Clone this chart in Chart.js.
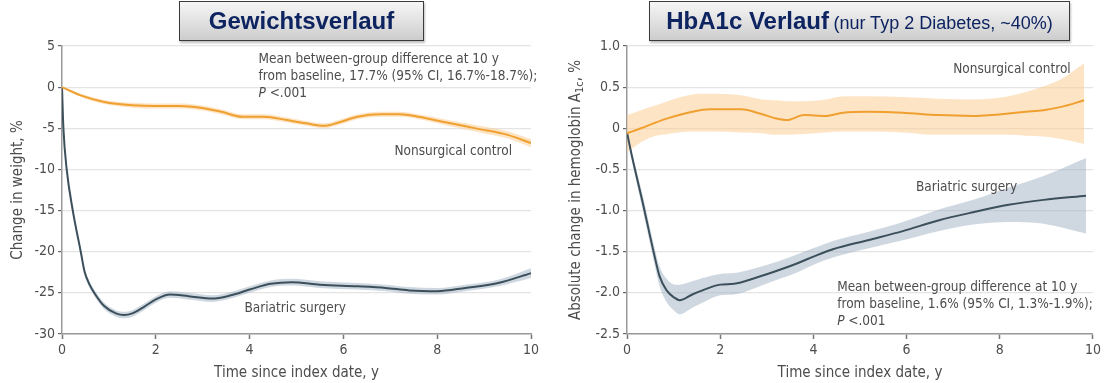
<!DOCTYPE html>
<html lang="de">
<head>
<meta charset="UTF-8">
<title>Gewichtsverlauf und HbA1c Verlauf</title>
<style>
    body {
        margin: 0;
        width: 1104px;
        height: 383px;
        background: #ffffff;
        position: relative;
        overflow: hidden;
    }
    canvas {
        position: absolute;
        top: 0;
    }
    #weightChart { left: 0; }
    #a1cChart { left: 552px; }
    .titlebox {
        position: absolute;
        top: 1px;
        height: 38px;
        border: 1px solid #3a3a3a;
        background: linear-gradient(to bottom, #f6f6f6, #cdcdcd);
        box-shadow: 1px 2px 2px rgba(0, 0, 0, 0.25);
        color: #0d2461;
        font-family: 'Liberation Sans', Arial, sans-serif;
        text-align: center;
        line-height: 38px;
        white-space: nowrap;
        z-index: 2;
    }
    .titlebox b { font-size: 24px; }
    .titlebox span { font-size: 18px; }
</style>
</head>
<body>
    <div class="titlebox" style="left:179px; width:243px;"><b>Gewichtsverlauf</b></div>
    <div class="titlebox" style="left:649px; width:419px;"><b>HbA1c Verlauf</b> <span>(nur Typ 2 Diabetes, ~40%)</span></div>
    <canvas id="weightChart" width="552" height="383"></canvas>
    <canvas id="a1cChart" width="552" height="383"></canvas>

    <script src="https://cdn.jsdelivr.net/npm/chart.js"></script>
    <script>
        // --- Gewicht (Change in weight, %) ---
        const xTicks = [0, 2, 4, 6, 8, 10];
        const weightTicks = [5, 0, -5, -10, -15, -20, -25, -30];
        const a1cTicks = [1.0, 0.5, 0, -0.5, -1.0, -1.5, -2.0, -2.5];

        const ncWeightTime = [0, 0.4, 0.9, 1.5, 2.0, 2.5, 2.95, 3.4, 3.85, 4.3, 4.8, 5.2, 5.6, 5.9, 6.3, 6.8, 7.2, 7.6, 8.2, 8.9, 9.5, 10];
        const ncWeight   = [0, -1.0, -1.8, -2.2, -2.3, -2.3, -2.5, -3.0, -3.6, -3.6, -4.0, -4.4, -4.7, -4.3, -3.6, -3.3, -3.3, -3.6, -4.3, -5.1, -5.8, -6.8];
        const ncWeightHi = [0, -0.8, -1.55, -1.9, -2.0, -2.0, -2.2, -2.7, -3.3, -3.3, -3.7, -4.1, -4.4, -4.0, -3.3, -3.0, -3.0, -3.3, -3.95, -4.7, -5.35, -6.3];
        const ncWeightLo = [0, -1.2, -2.05, -2.5, -2.6, -2.6, -2.8, -3.3, -3.9, -3.9, -4.3, -4.7, -5.0, -4.6, -3.9, -3.6, -3.6, -3.9, -4.65, -5.5, -6.25, -7.3];

        const bsWeightTime = [0, 0.03, 0.1, 0.23, 0.4, 0.48, 0.58, 0.7, 0.9, 1.15, 1.32, 1.5, 1.75, 2.0, 2.3, 2.7, 3.2, 3.6, 4.0, 4.45, 4.9, 5.5, 6.3, 6.9, 7.4, 8.0, 8.6, 9.3, 10];
        const bsWeight   = [0, -5, -10, -15, -20, -22.4, -23.9, -25.1, -26.6, -27.5, -27.7, -27.5, -26.7, -25.8, -25.2, -25.4, -25.7, -25.3, -24.6, -23.9, -23.7, -24.0, -24.2, -24.4, -24.7, -24.8, -24.4, -23.8, -22.6];
        const bsWeightHi = [0, -4.8, -9.7, -14.6, -19.6, -22.0, -23.5, -24.7, -26.2, -27.1, -27.3, -27.1, -26.3, -25.4, -24.8, -25.0, -25.3, -24.9, -24.2, -23.5, -23.3, -23.6, -23.8, -24.0, -24.3, -24.4, -24.0, -23.4, -22.0];
        const bsWeightLo = [0, -5.2, -10.3, -15.4, -20.4, -22.8, -24.3, -25.5, -27.0, -27.9, -28.1, -27.9, -27.1, -26.2, -25.6, -25.8, -26.1, -25.7, -25.0, -24.3, -24.1, -24.4, -24.6, -24.8, -25.1, -25.2, -24.8, -24.2, -23.2];

        // --- HbA1c (Absolute change, %) ---
        const ncA1cTime = [0, 0.3, 0.57, 0.87, 1.4, 1.77, 2.45, 2.9, 3.2, 3.43, 3.8, 4.26, 4.64, 5.17, 5.92, 6.68, 7.43, 7.8, 8.19, 8.56, 8.94, 9.32, 9.81];
        const ncA1c   = [-0.06, 0.0, 0.06, 0.12, 0.2, 0.23, 0.23, 0.17, 0.12, 0.1, 0.16, 0.15, 0.19, 0.2, 0.19, 0.16, 0.15, 0.16, 0.18, 0.2, 0.22, 0.26, 0.34];
        const ncA1cHi = [0.16, 0.22, 0.27, 0.33, 0.41, 0.42, 0.40, 0.35, 0.34, 0.33, 0.33, 0.35, 0.39, 0.39, 0.38, 0.36, 0.35, 0.36, 0.39, 0.44, 0.51, 0.6, 0.79];
        const ncA1cLo = [-0.29, -0.17, -0.1, -0.07, -0.04, -0.04, -0.05, -0.06, -0.08, -0.08, -0.07, -0.05, -0.04, -0.04, -0.05, -0.08, -0.08, -0.08, -0.08, -0.09, -0.1, -0.13, -0.19];

        const bsA1cTime = [0, 0.11, 0.34, 0.57, 0.7, 0.85, 1.02, 1.13, 1.4, 1.62, 2.0, 2.3, 2.75, 3.28, 3.66, 4.04, 4.42, 5.17, 5.92, 6.68, 7.43, 8.19, 8.94, 9.85];
        const bsA1c   = [-0.05, -0.35, -0.91, -1.5, -1.8, -1.97, -2.06, -2.09, -2.02, -1.97, -1.9, -1.89, -1.82, -1.72, -1.64, -1.55, -1.47, -1.36, -1.25, -1.12, -1.02, -0.93, -0.87, -0.82];
        const bsA1cHi = [-0.03, -0.3, -0.82, -1.4, -1.68, -1.83, -1.9, -1.9, -1.86, -1.82, -1.77, -1.76, -1.7, -1.61, -1.53, -1.45, -1.37, -1.26, -1.14, -0.99, -0.87, -0.72, -0.58, -0.36];
        const bsA1cLo = [-0.07, -0.4, -1.0, -1.6, -1.92, -2.11, -2.22, -2.26, -2.18, -2.12, -2.03, -2.02, -1.94, -1.83, -1.75, -1.65, -1.57, -1.46, -1.36, -1.25, -1.17, -1.14, -1.16, -1.28];

        const FONT = "'Liberation Sans Narrow', 'DejaVu Sans Condensed', 'Arial Narrow', sans-serif";
        const TEXT = '#4d4d4d';
        const ORANGE = '#f0a030';
        const ORANGE_BAND = 'rgba(251, 205, 150, 0.55)';
        const SLATE = '#3c505c';
        const SLATE_BAND = 'rgba(160, 178, 196, 0.5)';

        function pts(xs, ys) {
            return xs.map((x, i) => ({ x: x, y: ys[i] }));
        }

        function band(xs, hi, lo, color) {
            return [
                { data: pts(xs, hi), borderWidth: 0, pointRadius: 0, fill: '+1', backgroundColor: color,
                  cubicInterpolationMode: 'monotone', order: 2 },
                { data: pts(xs, lo), borderWidth: 0, pointRadius: 0, fill: false,
                  cubicInterpolationMode: 'monotone', order: 2 }
            ];
        }

        function line(xs, ys, color) {
            return { data: pts(xs, ys), borderColor: color, borderWidth: 2, pointRadius: 0, fill: false,
                     cubicInterpolationMode: 'monotone', order: 0 };
        }

        // draws axis titles and the text notes inside the plot
        const notesPlugin = {
            id: 'notes',
            afterDraw(chart, args, o) {
                const ctx = chart.ctx;
                const xs = chart.scales.x, ys = chart.scales.y;
                ctx.save();
                ctx.fillStyle = TEXT;
                ctx.textBaseline = 'middle';

                // x title
                ctx.font = '15px ' + FONT;
                ctx.textAlign = 'center';
                ctx.fillText('Time since index date, y', (chart.chartArea.left + chart.chartArea.right) / 2, 373);

                // y title (with optional subscript)
                ctx.save();
                ctx.translate(o.yTitleX, (chart.chartArea.top + chart.chartArea.bottom) / 2);
                ctx.rotate(-Math.PI / 2);
                ctx.textAlign = 'left';
                let w = 0;
                o.yTitle.forEach(p => { ctx.font = (p.sub ? '11px ' : '15px ') + FONT; w += ctx.measureText(p.t).width; });
                let cx = -w / 2;
                o.yTitle.forEach(p => {
                    ctx.font = (p.sub ? '11px ' : '15px ') + FONT;
                    ctx.fillText(p.t, cx, p.sub ? 4 : 0);
                    cx += ctx.measureText(p.t).width;
                });
                ctx.restore();

                // notes
                ctx.textAlign = 'left';
                o.items.forEach(it => {
                    let px = xs.getPixelForValue(it.x);
                    let py = ys.getPixelForValue(it.y);
                    it.lines.forEach((ln, k) => {
                        let cx2 = px;
                        ln.forEach(p => {
                            ctx.font = (p.i ? 'italic ' : '') + '13.5px ' + FONT;
                            ctx.fillText(p.t, cx2, py + k * 17);
                            cx2 += ctx.measureText(p.t).width;
                        });
                    });
                });
                ctx.restore();
            }
        };

        function makeChart(id, cfg) {
            return new Chart(document.getElementById(id), {
                type: 'line',
                data: { datasets: cfg.datasets },
                options: {
                    responsive: false,
                    animation: false,
                    events: [],
                    layout: { padding: { top: 46, right: cfg.padRight, left: 0, bottom: 0 } },
                    plugins: {
                        legend: { display: false },
                        tooltip: { enabled: false },
                        notes: cfg.notes
                    },
                    scales: {
                        x: {
                            type: 'linear',
                            min: 0, max: 10,
                            afterBuildTicks: s => { s.ticks = xTicks.map(v => ({ value: v })); },
                            afterFit: s => { s.height = 49; },
                            grid: { drawOnChartArea: false, tickLength: 5, tickColor: '#777', tickWidth: 1.5 },
                            border: { color: '#9a9a9a', width: 1.5 },
                            ticks: { color: TEXT, padding: 3, font: { family: FONT, size: 14 }, maxRotation: 0 }
                        },
                        y: {
                            min: cfg.yTicks[cfg.yTicks.length - 1], max: cfg.yTicks[0],
                            afterBuildTicks: s => { s.ticks = cfg.yTicks.map(v => ({ value: v })); },
                            afterFit: s => { s.width = cfg.yWidth; },
                            grid: { color: '#e4e4e4', tickColor: '#666', tickLength: 4, lineWidth: 1.2 },
                            border: { color: '#9a9a9a', width: 1.5 },
                            ticks: { color: TEXT, padding: 3, font: { family: FONT, size: 14 }, callback: cfg.fmt }
                        }
                    }
                },
                plugins: [notesPlugin]
            });
        }

        makeChart('weightChart', {
            padRight: 21,
            yWidth: 62,
            yTicks: weightTicks,
            fmt: v => String(v),
            datasets: [
                line(ncWeightTime, ncWeight, ORANGE),
                line(bsWeightTime, bsWeight, SLATE),
                ...band(ncWeightTime, ncWeightHi, ncWeightLo, ORANGE_BAND),
                ...band(bsWeightTime, bsWeightHi, bsWeightLo, SLATE_BAND)
            ],
            notes: {
                yTitleX: 18,
                yTitle: [{ t: 'Change in weight, %' }],
                items: [
                    { x: 4.19, y: 3.3, lines: [
                        [{ t: 'Mean between-group difference at 10 y' }],
                        [{ t: 'from baseline, 17.7% (95% CI, 16.7%-18.7%);' }],
                        [{ t: 'P', i: true }, { t: ' <.001' }]
                    ] },
                    { x: 7.09, y: -7.85, lines: [[{ t: 'Nonsurgical control' }]] },
                    { x: 3.89, y: -26.9, lines: [[{ t: 'Bariatric surgery' }]] }
                ]
            }
        });

        makeChart('a1cChart', {
            padRight: 9,
            yWidth: 75,
            yTicks: a1cTicks,
            fmt: v => (v === 0 ? '0' : v.toFixed(1)),
            datasets: [
                line(ncA1cTime, ncA1c, ORANGE),
                line(bsA1cTime, bsA1c, SLATE),
                ...band(ncA1cTime, ncA1cHi, ncA1cLo, ORANGE_BAND),
                ...band(bsA1cTime, bsA1cHi, bsA1cLo, SLATE_BAND)
            ],
            notes: {
                yTitleX: 24,
                yTitle: [{ t: 'Absolute change in hemoglobin A' }, { t: '1c', sub: true }, { t: ', %' }],
                items: [
                    { x: 7.0, y: 0.72, lines: [[{ t: 'Nonsurgical control' }]] },
                    { x: 6.2, y: -0.72, lines: [[{ t: 'Bariatric surgery' }]] },
                    { x: 4.51, y: -1.94, lines: [
                        [{ t: 'Mean between-group difference at 10 y' }],
                        [{ t: 'from baseline, 1.6% (95% CI, 1.3%-1.9%);' }],
                        [{ t: 'P', i: true }, { t: ' <.001' }]
                    ] }
                ]
            }
        });
    </script>
</body>
</html>
